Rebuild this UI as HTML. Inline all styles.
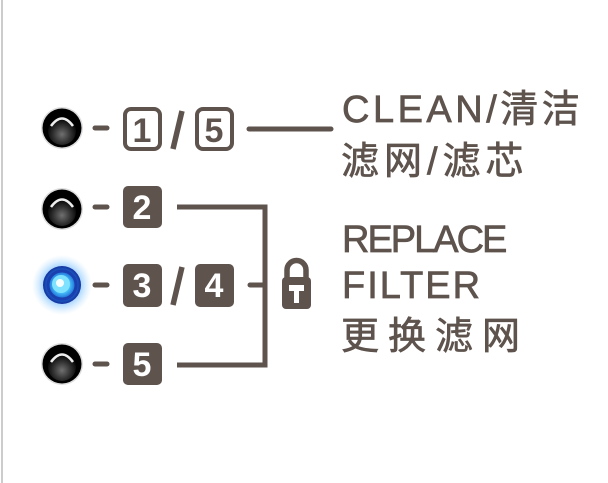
<!DOCTYPE html>
<html><head><meta charset="utf-8"><style>
html,body{margin:0;padding:0;background:#fff;width:608px;height:483px;overflow:hidden}
</style></head><body>
<svg width="608" height="483" viewBox="0 0 608 483" xmlns="http://www.w3.org/2000/svg">
<defs>
<radialGradient id="led" cx="50%" cy="62%" r="55%">
<stop offset="0" stop-color="#707070"/><stop offset="0.55" stop-color="#333"/><stop offset="1" stop-color="#050505"/>
</radialGradient>
<radialGradient id="glow" cx="50%" cy="50%" r="50%">
<stop offset="0.5" stop-color="#4aa8ff" stop-opacity="0.7"/><stop offset="1" stop-color="#9fd4ff" stop-opacity="0"/>
</radialGradient>
<radialGradient id="blue" cx="50%" cy="50%" r="50%">
<stop offset="0" stop-color="#e8fbff"/><stop offset="0.35" stop-color="#4fd0ff"/><stop offset="0.7" stop-color="#1f6fd8"/><stop offset="1" stop-color="#15309a"/>
</radialGradient>
</defs>
<line x1="2" y1="0" x2="2" y2="483" stroke="#bbb" stroke-width="1.5"/>
<g>
<circle cx="62" cy="128" r="21" fill="#ddd"/><circle cx="62" cy="128" r="19.5" fill="#000"/><circle cx="62" cy="131" r="14" fill="url(#led)"/><path d="M51 126 Q62 111 73 126" stroke="#eee" stroke-width="2.5" fill="none"/>
<circle cx="62" cy="209" r="21" fill="#ddd"/><circle cx="62" cy="209" r="19.5" fill="#000"/><circle cx="62" cy="212" r="14" fill="url(#led)"/><path d="M51 207 Q62 192 73 207" stroke="#eee" stroke-width="2.5" fill="none"/>
<circle cx="62" cy="364" r="21" fill="#ddd"/><circle cx="62" cy="364" r="19.5" fill="#000"/><circle cx="62" cy="367" r="14" fill="url(#led)"/><path d="M51 362 Q62 347 73 362" stroke="#eee" stroke-width="2.5" fill="none"/>
<circle cx="62" cy="285" r="30" fill="url(#glow)"/><circle cx="62" cy="285" r="19" fill="url(#blue)"/><circle cx="62" cy="285" r="14" fill="none" stroke="#1a3fae" stroke-width="3"/><circle cx="61" cy="284" r="9" fill="#7fe2ff"/><circle cx="60" cy="283" r="4" fill="#f4feff"/>
</g>
<g stroke="#5e534d" stroke-width="5" stroke-linecap="round" fill="none">
<line x1="95" y1="128" x2="107" y2="128"/>
<line x1="95" y1="207" x2="107" y2="207"/>
<line x1="95" y1="285" x2="107" y2="285"/>
<line x1="95" y1="364" x2="107" y2="364"/>
<line x1="249" y1="129" x2="331" y2="129"/>
<polyline points="177,207 265,207 265,365 177,365" stroke-linecap="butt"/>
<line x1="250" y1="285" x2="263" y2="285"/>
<line x1="173" y1="149" x2="182" y2="111" stroke-linecap="butt" stroke-width="5.5"/>
<line x1="173" y1="305" x2="182" y2="267" stroke-linecap="butt" stroke-width="5.5"/>
</g>
<g stroke="#5e534d" stroke-width="4" fill="#fff">
<rect x="125" y="109" width="35" height="40" rx="6"/>
<rect x="197" y="109" width="35" height="40" rx="6"/>
</g>
<g fill="#5e534d">
<rect x="123" y="186" width="39" height="42" rx="5"/>
<rect x="123" y="264" width="39" height="43" rx="5"/>
<rect x="195" y="264" width="39" height="43" rx="5"/>
<rect x="123" y="343" width="39" height="42" rx="5"/>
</g>
<g font-family="Liberation Sans, sans-serif" font-weight="bold" font-size="34" text-anchor="middle">
<text x="142" y="142" fill="#5e534d">1</text>
<text x="214" y="142" fill="#5e534d">5</text>
<text x="142" y="219" fill="#fff">2</text>
<text x="142" y="297" fill="#fff">3</text>
<text x="214" y="297" fill="#fff">4</text>
<text x="142" y="376" fill="#fff">5</text>
</g>
<path d="M287 279 V270 A9.5 9.5 0 0 1 306 270 V279" stroke="#5e534d" stroke-width="5.5" fill="none"/>
<rect x="282" y="277" width="29" height="32" rx="4" fill="#5e534d"/>
<path d="M289 285 H304 V291 H299 V303 H294 V291 H289 Z" fill="#fff"/>
<g fill="#5e534d" stroke="#5e534d" stroke-width="0.7" font-family="Liberation Sans, 'Noto Sans CJK SC', sans-serif" font-size="38">
<text x="342" y="122" letter-spacing="3.5">CLEAN/清洁</text>
<text x="341" y="174" letter-spacing="5">滤网/滤芯</text>
<text x="342" y="252" letter-spacing="-2">REPLACE</text>
<text x="342" y="298" letter-spacing="2">FILTER</text>
<text x="341" y="349" letter-spacing="9">更换滤网</text>
</g>
</svg>
</body></html>
